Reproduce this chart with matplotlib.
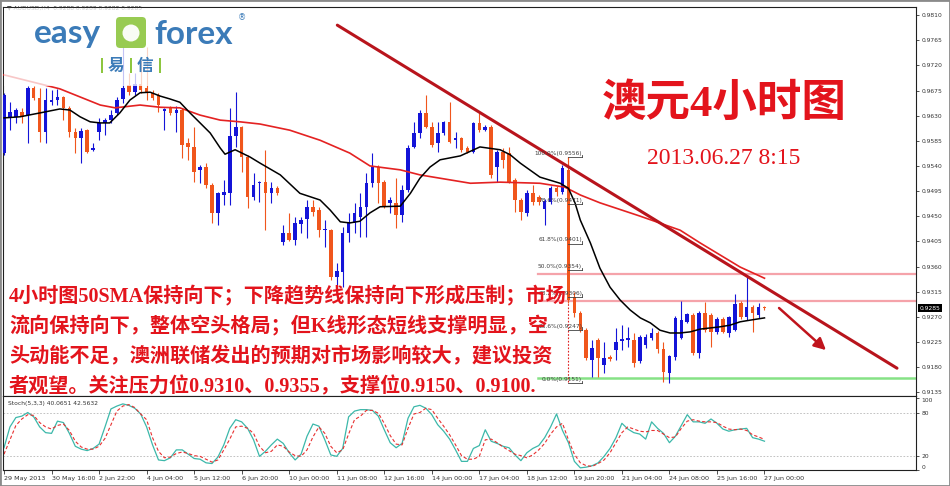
import numpy as np
import matplotlib
matplotlib.use('Agg')
from matplotlib import pyplot as plt
from matplotlib.patches import Rectangle, FancyBboxPatch, Circle
from matplotlib.transforms import IdentityTransform

# AUDUSD H4 candles, 29 May - 27 Jun 2013
opens = [0.9563, 0.9626, 0.9628, 0.9636, 0.9631, 0.9680, 0.9662, 0.9601, 0.9654, 0.9658,
         0.9663, 0.9644, 0.9601, 0.9590, 0.9604, 0.9569, 0.9601, 0.9617, 0.9622, 0.9635,
         0.9660, 0.9685, 0.9672, 0.9687, 0.9680, 0.9671, 0.9667, 0.9638, 0.9644, 0.9635,
         0.9640, 0.9581, 0.9574, 0.9533, 0.9538, 0.9506, 0.9456, 0.9488, 0.9491, 0.9594,
         0.9610, 0.9556, 0.9484, 0.9509, 0.9511, 0.9491, 0.9500, 0.9404, 0.9420, 0.9407,
         0.9436, 0.9445, 0.9467, 0.9461, 0.9425, 0.9425, 0.9341, 0.9350, 0.9420, 0.9438,
         0.9449, 0.9467, 0.9509, 0.9538, 0.9511, 0.9474, 0.9474, 0.9452, 0.9497, 0.9574,
         0.9599, 0.9635, 0.9610, 0.9581, 0.9599, 0.9619, 0.9586, 0.9590, 0.9572, 0.9565,
         0.9617, 0.9604, 0.9610, 0.9538, 0.9565, 0.9563, 0.9515, 0.9479, 0.9456, 0.9491,
         0.9484, 0.9463, 0.9475, 0.9500, 0.9493, 0.9533, 0.9305, 0.9277, 0.9246, 0.9193,
         0.9228, 0.9184, 0.9198, 0.9211, 0.9227, 0.9228, 0.9228, 0.9191, 0.9219, 0.9232,
         0.9241, 0.9212, 0.9169, 0.9198, 0.9232, 0.9261, 0.9273, 0.9205, 0.9277, 0.9273,
         0.9243, 0.9266, 0.9241, 0.9246, 0.9295, 0.9270, 0.9288, 0.9273, 0.9288]
highs = [0.9671, 0.9654, 0.9644, 0.9644, 0.9683, 0.9683, 0.9680, 0.9680, 0.9676, 0.9678,
         0.9665, 0.9647, 0.9608, 0.9608, 0.9606, 0.9581, 0.9626, 0.9626, 0.9640, 0.9663,
         0.9753, 0.9706, 0.9706, 0.9730, 0.9753, 0.9676, 0.9671, 0.9644, 0.9647, 0.9647,
         0.9644, 0.9590, 0.9610, 0.9542, 0.9545, 0.9509, 0.9493, 0.9515, 0.9644, 0.9672,
         0.9611, 0.9560, 0.9527, 0.9513, 0.9569, 0.9511, 0.9504, 0.9434, 0.9456, 0.9449,
         0.9449, 0.9479, 0.9479, 0.9467, 0.9443, 0.9427, 0.9366, 0.9431, 0.9456, 0.9474,
         0.9491, 0.9527, 0.9563, 0.9542, 0.9515, 0.9484, 0.9518, 0.9506, 0.9577, 0.9619,
         0.9640, 0.9667, 0.9619, 0.9619, 0.9620, 0.9654, 0.9601, 0.9592, 0.9576, 0.9619,
         0.9635, 0.9613, 0.9613, 0.9569, 0.9572, 0.9574, 0.9518, 0.9483, 0.9497, 0.9506,
         0.9488, 0.9481, 0.9504, 0.9504, 0.9542, 0.9556, 0.9314, 0.9280, 0.9250, 0.9228,
         0.9232, 0.9225, 0.9202, 0.9250, 0.9255, 0.9252, 0.9241, 0.9237, 0.9239, 0.9250,
         0.9245, 0.9225, 0.9202, 0.9271, 0.9298, 0.9277, 0.9277, 0.9280, 0.9296, 0.9277,
         0.9270, 0.9270, 0.9271, 0.9311, 0.9298, 0.9341, 0.9291, 0.9295, 0.9289]
lows = [0.9560, 0.9604, 0.9617, 0.9617, 0.9581, 0.9658, 0.9583, 0.9581, 0.9649, 0.9649,
        0.9622, 0.9592, 0.9563, 0.9545, 0.9563, 0.9567, 0.9586, 0.9595, 0.9617, 0.9631,
        0.9653, 0.9667, 0.9667, 0.9670, 0.9658, 0.9658, 0.9636, 0.9604, 0.9631, 0.9601,
        0.9554, 0.9551, 0.9511, 0.9509, 0.9500, 0.9438, 0.9434, 0.9470, 0.9470, 0.9574,
        0.9529, 0.9465, 0.9479, 0.9475, 0.9425, 0.9474, 0.9488, 0.9398, 0.9406, 0.9398,
        0.9420, 0.9411, 0.9450, 0.9413, 0.9395, 0.9336, 0.9323, 0.9323, 0.9404, 0.9420,
        0.9413, 0.9413, 0.9502, 0.9474, 0.9465, 0.9456, 0.9429, 0.9440, 0.9493, 0.9572,
        0.9590, 0.9608, 0.9574, 0.9565, 0.9595, 0.9581, 0.9572, 0.9565, 0.9563, 0.9563,
        0.9601, 0.9602, 0.9518, 0.9511, 0.9536, 0.9509, 0.9458, 0.9443, 0.9450, 0.9470,
        0.9470, 0.9434, 0.9472, 0.9486, 0.9490, 0.9295, 0.9270, 0.9243, 0.9193, 0.9162,
        0.9162, 0.9169, 0.9191, 0.9193, 0.9211, 0.9216, 0.9180, 0.9187, 0.9214, 0.9228,
        0.9205, 0.9153, 0.9151, 0.9193, 0.9230, 0.9259, 0.9202, 0.9196, 0.9243, 0.9216,
        0.9239, 0.9241, 0.9234, 0.9245, 0.9266, 0.9264, 0.9243, 0.9268, 0.9282]
closes = [0.9667, 0.9636, 0.9640, 0.9628, 0.9680, 0.9662, 0.9601, 0.9658, 0.9658, 0.9663,
          0.9644, 0.9601, 0.9590, 0.9602, 0.9565, 0.9572, 0.9617, 0.9622, 0.9631, 0.9658,
          0.9680, 0.9672, 0.9687, 0.9676, 0.9671, 0.9662, 0.9649, 0.9642, 0.9635, 0.9640,
          0.9577, 0.9574, 0.9529, 0.9538, 0.9506, 0.9456, 0.9491, 0.9493, 0.9594, 0.9610,
          0.9556, 0.9484, 0.9506, 0.9511, 0.9491, 0.9500, 0.9491, 0.9420, 0.9407, 0.9438,
          0.9443, 0.9467, 0.9458, 0.9425, 0.9427, 0.9341, 0.9352, 0.9420, 0.9438, 0.9456,
          0.9467, 0.9509, 0.9538, 0.9509, 0.9467, 0.9479, 0.9452, 0.9497, 0.9572, 0.9599,
          0.9635, 0.9610, 0.9577, 0.9599, 0.9619, 0.9583, 0.9590, 0.9569, 0.9565, 0.9617,
          0.9604, 0.9610, 0.9524, 0.9565, 0.9551, 0.9511, 0.9479, 0.9458, 0.9491, 0.9475,
          0.9475, 0.9477, 0.9500, 0.9493, 0.9536, 0.9300, 0.9277, 0.9246, 0.9196, 0.9214,
          0.9196, 0.9196, 0.9194, 0.9225, 0.9230, 0.9232, 0.9187, 0.9234, 0.9234, 0.9241,
          0.9212, 0.9171, 0.9200, 0.9268, 0.9264, 0.9275, 0.9205, 0.9277, 0.9246, 0.9243,
          0.9266, 0.9243, 0.9270, 0.9293, 0.9270, 0.9288, 0.9277, 0.9288, 0.9285]

# moving averages (bar index, price)
fast_ma_bars = [0, 2.7, 6.1, 9.4, 11.1, 12.8, 14.5, 16.2, 17.8, 19.5, 21.2, 22.9, 24.6, 26.3,
                27.9, 29.6, 31.3, 33.0, 34.7, 36.4, 37.2, 38.9, 41.4, 43.1, 46.5, 49.8, 53.2,
                54.9, 56.6, 58.2, 59.9, 61.6, 63.3, 66.7, 68.4, 70.0, 71.7, 73.4, 76.8, 80.1,
                83.5, 85.2, 86.9, 90.2, 93.6, 95.0, 96.1, 97.0, 98.7, 100.3, 102.0, 103.7,
                105.4, 107.1, 108.8, 110.4, 112.1, 113.8, 115.5, 117.2, 120.5, 122.2, 123.9,
                125.6, 128]
fast_ma = [0.9626, 0.9628, 0.9635, 0.9642, 0.9640, 0.9628, 0.9619, 0.9617, 0.9617, 0.9635,
           0.9658, 0.9671, 0.9672, 0.9665, 0.9660, 0.9654, 0.9635, 0.9617, 0.9599, 0.9572,
           0.9561, 0.9569, 0.9556, 0.9545, 0.9524, 0.9491, 0.9479, 0.9461, 0.9440, 0.9438,
           0.9441, 0.9456, 0.9467, 0.9468, 0.9491, 0.9518, 0.9538, 0.9551, 0.9558, 0.9574,
           0.9569, 0.9560, 0.9545, 0.9520, 0.9509, 0.9500, 0.9474, 0.9443, 0.9402, 0.9357,
           0.9323, 0.9300, 0.9282, 0.9268, 0.9259, 0.9246, 0.9241, 0.9241, 0.9243, 0.9248,
           0.9252, 0.9255, 0.9261, 0.9264, 0.9268]
sma50_bars = [0, 9.4, 16.2, 18.7, 22.9, 26.3, 29.6, 33.0, 36.4, 39.7, 43.1, 48.1, 53.2, 58.2,
              61.6, 66.7, 70.0, 73.4, 78.5, 83.5, 90.2, 94.4, 97.0, 100.3, 107.1, 113.8,
              117.2, 123.9, 128]
sma50 = [0.9703, 0.9678, 0.9649, 0.9644, 0.9649, 0.9645, 0.9644, 0.9631, 0.9622, 0.9619,
         0.9615, 0.9604, 0.9586, 0.9563, 0.9540, 0.9533, 0.9524, 0.9518, 0.9509, 0.9511,
         0.9509, 0.9502, 0.9488, 0.9474, 0.9450, 0.9425, 0.9402, 0.9359, 0.9339]

# Stoch(5,3,3)
stoch_k = [31, 60, 73, 75, 80, 74, 60, 52, 51, 68, 66, 51, 33, 29, 27, 30, 36, 60, 85, 89,
           92, 90, 86, 78, 60, 35, 14, 13, 17, 28, 28, 22, 16, 15, 10, 9, 18, 35, 58, 70,
           67, 58, 42, 19, 26, 35, 43, 37, 24, 14, 22, 47, 64, 61, 42, 21, 19, 30, 74, 82,
           84, 84, 83, 75, 56, 38, 31, 37, 72, 88, 90, 86, 77, 63, 54, 43, 28, 12, 12, 30,
           34, 56, 40, 37, 33, 31, 21, 13, 24, 30, 34, 45, 60, 78, 55, 38, 12, 3, 4, 6,
           10, 19, 30, 45, 65, 57, 52, 50, 43, 67, 58, 51, 38, 47, 62, 77, 67, 67, 65, 71,
           65, 57, 54, 56, 57, 58, 45, 43, 40.07]
stoch_d = [22, 42, 62, 71, 77, 76, 66, 60, 57, 62, 64, 55, 40, 32, 29, 29, 33, 44, 63, 82,
           89, 91, 87, 78, 70, 45, 26, 17, 18, 23, 25, 23, 20, 19, 15, 11, 14, 28, 43, 60,
           61, 58, 51, 33, 24, 26, 35, 33, 25, 20, 19, 28, 46, 60, 51, 33, 24, 28, 50, 70,
           75, 83, 83, 79, 65, 48, 36, 35, 58, 78, 80, 86, 84, 72, 61, 49, 35, 20, 15, 15,
           19, 42, 43, 38, 32, 27, 22, 20, 17, 21, 28, 37, 50, 60, 65, 42, 22, 10, 6, 5,
           9, 14, 24, 38, 52, 60, 57, 54, 53, 55, 55, 50, 45, 46, 58, 68, 70, 68, 67, 67,
           66, 61, 57, 56, 57, 55, 49, 46, 42.56]

# Fibonacci retracement of the 19 Jun drop
fib_pct = ['100.0%', '78.6%', '61.8%', '50.0%', '38.2%', '23.6%', '0.0%']
fib_price = [0.9556, 0.9471, 0.9401, 0.9354, 0.9306, 0.9247, 0.9151]
fib_bars = [95, 97.3]

# drawn objects
trend_bars = [56.1, 150.3]
trend_price = [0.9792, 0.9178]
arrow_bars = [130.1, 138.7]
arrow_price = [0.9289, 0.9207]
resist_levels = [0.9346, 0.9299]
support_level = 0.9160
line_start = 89.9

price_ticks = [0.9810, 0.9765, 0.9720, 0.9675, 0.9630, 0.9585, 0.9540, 0.9495, 0.9450,
               0.9405, 0.9360, 0.9315, 0.9270, 0.9225, 0.9180, 0.9135]
date_labels = ['29 May 2013', '30 May 16:00', '2 Jun 22:00', '4 Jun 04:00', '5 Jun 12:00',
               '6 Jun 20:00', '10 Jun 00:00', '11 Jun 08:00', '12 Jun 16:00', '14 Jun 00:00',
               '17 Jun 04:00', '18 Jun 12:00', '19 Jun 20:00', '21 Jun 04:00', '24 Jun 08:00',
               '25 Jun 16:00', '27 Jun 00:00']
last_price = 0.9285

comment_lines = ['4小时图50SMA保持向下；下降趋势线保持向下形成压制；市场',
                 '流向保持向下，整体空头格局；但K线形态短线支撑明显，空',
                 '头动能不足，澳洲联储发出的预期对市场影响较大，建议投资',
                 '者观望。关注压力位0.9310、0.9355，支撑位0.9150、0.9100.']

BLUE = '#1414d8'
ORANGE = '#f0561c'
TXT_RED = '#e3141c'
W, H = 950, 486


def fx(x):
    return x / W


def fy(y):
    return 1 - y / H


fig = plt.figure(figsize=(9.5, 4.86), dpi=100)
fig.patch.set_facecolor('white')

# main price panel
ax = fig.add_axes([fx(3), fy(396), fx(913), 389 / H])
ax.set_xlim(-0.17, 153.5)
ax.set_ylim(0.91282, 0.98245)

n = len(closes)
xb = np.arange(n)
o = np.array(opens)
c = np.array(closes)
hi = np.array(highs)
lo = np.array(lows)
cols = np.where(c >= o, BLUE, ORANGE)
ax.vlines(xb, lo, hi, colors=cols, lw=0.8, zorder=3)
body_lo = np.minimum(o, c)
body_h = np.maximum(np.abs(c - o), 0.00012)
ax.bar(xb, body_h, 0.6, bottom=body_lo, color=cols, linewidth=0, zorder=4)

ax.plot(sma50_bars, sma50, color='#e42222', lw=1.2, zorder=5)
ax.plot(fast_ma_bars, fast_ma, color='black', lw=1.1, zorder=5)

# horizontal levels
for lv in resist_levels:
    ax.plot([line_start, 153.5], [lv, lv], color='#f5a3aa', lw=1.6, zorder=2)
ax.plot([line_start, 153.5], [support_level, support_level], color='#86e286', lw=1.8, zorder=2)

# fibonacci
ax.plot([fib_bars[0], fib_bars[0]], [fib_price[0], fib_price[-1]], color='#e02020',
        lw=0.8, ls=(0, (1.5, 1.5)), zorder=2)
for pct, pr in zip(fib_pct, fib_price):
    ax.plot(fib_bars, [pr, pr], color='#404040', lw=0.6, zorder=6)
    ax.plot([fib_bars[1], fib_bars[1]], [pr, pr + 0.0004], color='#404040', lw=0.6, zorder=6)
    ax.text(fib_bars[1], pr + 0.0002, '%s(%.4f)' % (pct, pr), fontsize=4.2,
            color='#404040', ha='right', va='bottom', zorder=7)

# trend line and arrow
ax.plot(trend_bars, trend_price, color='#b8141c', lw=2.2, solid_capstyle='round', zorder=6)
ax.annotate('', xy=(arrow_bars[1], arrow_price[1]), xytext=(arrow_bars[0], arrow_price[0]),
            arrowprops=dict(arrowstyle='-|>,head_length=0.7,head_width=0.35',
                            color='#c0141c', lw=1.8), zorder=6)

ax.set_xticks([])
ax.yaxis.tick_right()
ax.set_yticks(price_ticks)
ax.set_yticklabels(['%.4f' % t for t in price_ticks])
ax.tick_params(axis='y', length=2.5, width=0.6, pad=1.5, labelsize=4.3,
               colors='#333333')
for s in ax.spines.values():
    s.set_color('#202020')
    s.set_linewidth(0.8)
ax.text(1.004, last_price, '%.4f' % last_price, transform=ax.get_yaxis_transform(),
        ha='left', va='center', fontsize=4.3, color='white', clip_on=False,
        bbox=dict(boxstyle='square,pad=0.25', fc='black', ec='none'))

# stochastic panel
ax2 = fig.add_axes([fx(3), fy(470), fx(913), 74 / H])
ax2.set_xlim(-0.17, 153.5)
ax2.set_ylim(0.6, 103)
ax2.axhline(80, color='#b8b8b8', lw=0.6, ls=(0, (2, 2)))
ax2.axhline(20, color='#b8b8b8', lw=0.6, ls=(0, (2, 2)))
ax2.plot(xb, stoch_k, color='#3cb8aa', lw=0.9)
ax2.plot(xb, stoch_d, color='#e83030', lw=0.8, ls=(0, (3, 2)))
ax2.yaxis.tick_right()
ax2.set_yticks([0, 20, 80, 100])
ax2.set_yticklabels(['0', '20', '80', '100'])
ax2.tick_params(axis='y', length=2.5, width=0.6, pad=1.5, labelsize=4.3, colors='#333333')
for lbl in ax2.get_yticklabels():
    if lbl.get_text() == '100':
        lbl.set_va('top')
    elif lbl.get_text() == '0':
        lbl.set_va('bottom')
ax2.set_xticks(np.arange(0, n, 8))
ax2.set_xticklabels(date_labels, ha='left')
ax2.tick_params(axis='x', length=3, width=0.6, pad=1.5, labelsize=4.6, colors='#333333')
for s in ax2.spines.values():
    s.set_color('#202020')
    s.set_linewidth(0.8)
ax2.text(0.005, 0.93, 'Stoch(5,3,3) 40.0651 42.5632', transform=ax2.transAxes,
         fontsize=4.3, color='#333333', va='top')

# chart header (under the logo)
fig.text(fx(7), fy(8), '▼ AUDUSD,H4  0.9288 0.9289 0.9282 0.9285', fontsize=4.3,
         color='#333333', va='center')

# logo: white veil, then the easy-forex mark
fig.add_artist(Rectangle((fx(4), fy(86)), fx(246), 78 / H, transform=fig.transFigure,
                         fc='white', ec='none', alpha=0.75, zorder=4))
LOGO_BLUE = '#3b7bb8'
LOGO_GREEN = '#8dc63f'
fig.text(fx(34), fy(34), 'easy', fontsize=24, color=LOGO_BLUE, family='Lato',
         weight='bold', va='center', zorder=6)
fig.text(fx(154), fy(34), 'forex', fontsize=24, color=LOGO_BLUE, family='Lato',
         weight='bold', va='center', zorder=6)
fig.text(fx(238), fy(18), '®', fontsize=6, color=LOGO_BLUE, va='center', zorder=6)
ident = IdentityTransform()
fig.add_artist(FancyBboxPatch((116, H - 48), 30, 31,
                              boxstyle='round,pad=0,rounding_size=4', transform=ident,
                              fc=LOGO_GREEN, ec='none', alpha=0.9, zorder=5))
fig.add_artist(Circle((131, H - 33), 8.5, transform=ident, fc='white', ec='none',
                      alpha=0.95, zorder=6))
for bx in [101, 130, 159]:
    fig.add_artist(Rectangle((bx, H - 73), 1.6, 15, transform=ident, fc=LOGO_GREEN,
                             ec='none', zorder=6))
fig.text(fx(115.5), fy(66), '易', fontsize=12, color=LOGO_BLUE, family='Noto Sans CJK SC',
         weight='bold', ha='center', va='center', zorder=6)
fig.text(fx(144.5), fy(66), '信', fontsize=12, color=LOGO_BLUE, family='Noto Sans CJK SC',
         weight='bold', ha='center', va='center', zorder=6)

# title and comment
serif_cjk = ['Liberation Serif', 'Noto Sans CJK SC']
fig.text(fx(724), fy(104), '澳元4小时图', fontsize=32, color=TXT_RED, family=serif_cjk,
         weight='bold', ha='center', va='center', zorder=8)
fig.text(fx(724), fy(158), '2013.06.27 8:15', fontsize=17, color=TXT_RED,
         family='Liberation Serif', ha='center', va='center', zorder=8)
for k, (line, yy) in enumerate(zip(comment_lines, [296, 327, 357, 387])):
    fig.text(fx(9), fy(yy), line, fontsize=14.5, color=TXT_RED, family=serif_cjk,
             weight='bold', ha='left', va='center', zorder=3)

# outer frame
fig.add_artist(Rectangle((0, 0), 1, 1, transform=fig.transFigure, fill=False,
                         ec='#8a8a8a', lw=2, zorder=10))

plt.savefig('out.png', dpi=100)
